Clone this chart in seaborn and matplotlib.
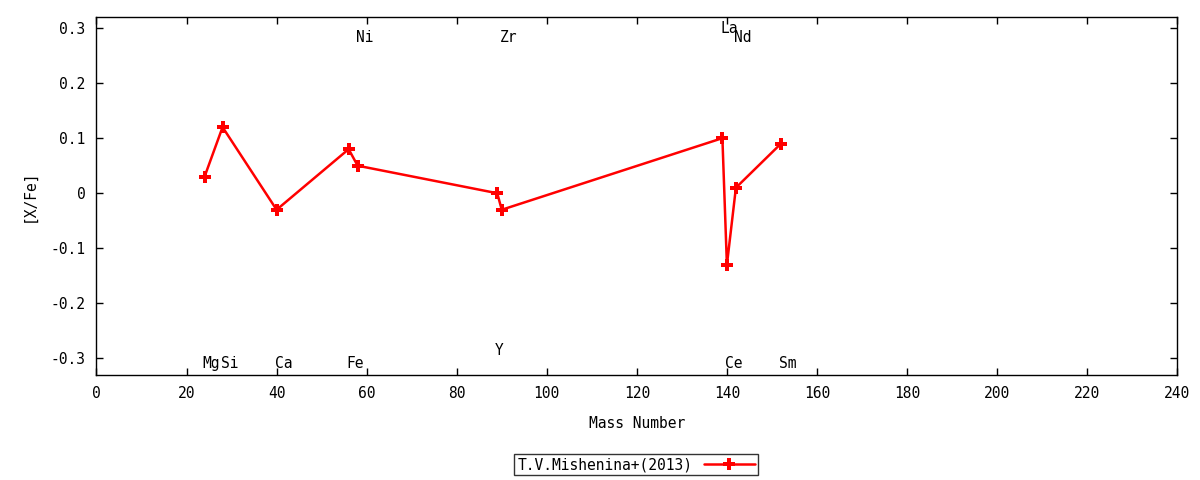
import numpy as np
import pandas as pd
import matplotlib
matplotlib.use("Agg")
import matplotlib.pyplot as plt
import matplotlib.transforms as mtransforms
import seaborn as sb

# abundances, T.V.Mishenina+(2013)
elements = ["Mg", "Si", "Ca", "Fe", "Ni", "Y", "Zr", "La", "Ce", "Nd", "Sm"]
mass = [24, 28, 40, 56, 58, 89, 90, 139, 140, 142, 152]
xfe = [0.03, 0.12, -0.03, 0.08, 0.05, 0.0, -0.03, 0.10, -0.13, 0.01, 0.09]
label_y = [-0.31, -0.31, -0.31, -0.31, 0.283, -0.285, 0.283, 0.30, -0.31, 0.283, -0.31]

xticks = list(range(0, 241, 20))
yticks = [-0.3, -0.2, -0.1, 0, 0.1, 0.2, 0.3]
ytick_labels = ["-0.3", "-0.2", "-0.1", "0", "0.1", "0.2", "0.3"]

sb.set_theme(style="ticks")
plt.rcParams['font.family'] = ['DejaVu Sans Mono']
plt.rcParams['font.size'] = 10
plt.rcParams['text.color'] = 'black'
plt.rcParams['axes.labelcolor'] = 'black'

df = pd.DataFrame({"Mass Number": mass, "[X/Fe]": xfe, "el": elements})

fig = plt.figure(figsize=(12, 4.8), dpi=100)
ax = fig.add_axes([0.0804, 0.2188, 0.9006, 0.7458])

sb.lineplot(data=df, x="Mass Number", y="[X/Fe]", ax=ax, color="red",
            marker="P", markersize=9, markeredgewidth=0, linewidth=1.8,
            label="T.V.Mishenina+(2013)", sort=False)

shift = mtransforms.offset_copy(ax.transData, fig=fig, x=-2, y=0, units="dots")
for i in range(len(elements)):
    ax.text(mass[i], label_y[i], elements[i], ha="left", va="center",
            fontsize=10.5, color="black", transform=shift)

ax.set_xlim(0, 240)
ax.set_ylim(-0.33, 0.32)
ax.set_xticks(xticks)
ax.set_yticks(yticks)
ax.set_yticklabels(ytick_labels)
ax.tick_params(direction="in", top=True, right=True, length=5, width=1,
               labelsize=10.5, colors="black", pad=8)
for s in ax.spines.values():
    s.set_linewidth(1)
    s.set_color("black")
ax.set_xlabel("Mass Number", fontsize=10.5, labelpad=11)
ax.set_ylabel("[X/Fe]", fontsize=10.5, labelpad=10)
ax.get_legend().remove()

h, l = ax.get_legend_handles_labels()
leg = fig.legend(h, l, loc="center", bbox_to_anchor=(0.53, 0.032), markerfirst=False,
                 frameon=True, fancybox=False, edgecolor="black",
                 handlelength=3.5, borderpad=0.2, fontsize=10.5)
leg.get_frame().set_linewidth(1)

plt.savefig("out.png", dpi=100)
